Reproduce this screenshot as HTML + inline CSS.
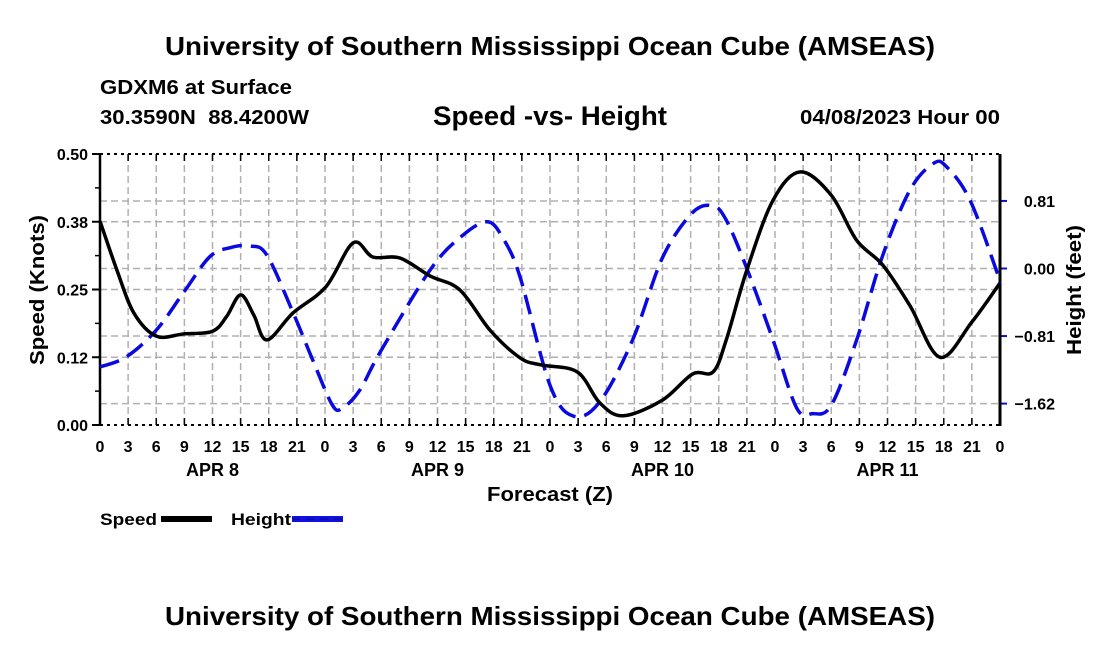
<!DOCTYPE html>
<html><head><meta charset="utf-8"><style>
body{margin:0;background:#fff;}
svg{display:block;font-family:"Liberation Sans",Arial,sans-serif;font-weight:bold;}
</style></head><body>
<svg id="chart" width="1100" height="650" viewBox="0 0 1100 650">
<text x="550" y="55" font-size="26" text-anchor="middle" textLength="770" lengthAdjust="spacingAndGlyphs">University of Southern Mississippi Ocean Cube (AMSEAS)</text>
<text x="100" y="94" font-size="20" textLength="192" lengthAdjust="spacingAndGlyphs">GDXM6 at Surface</text>
<text x="100" y="124" font-size="20" textLength="209" lengthAdjust="spacingAndGlyphs" xml:space="preserve">30.3590N  88.4200W</text>
<text x="550" y="125" font-size="27" text-anchor="middle" textLength="234" lengthAdjust="spacingAndGlyphs">Speed -vs- Height</text>
<text x="1000" y="124" font-size="20" text-anchor="end" textLength="200" lengthAdjust="spacingAndGlyphs">04/08/2023 Hour 00</text>
<g id="grid"></g>
<g id="axes"></g>
<g id="series"></g>
<text x="550" y="501" font-size="20" text-anchor="middle" textLength="126" lengthAdjust="spacingAndGlyphs">Forecast (Z)</text>
<text transform="translate(44,290) rotate(-90)" font-size="20" text-anchor="middle" textLength="150" lengthAdjust="spacingAndGlyphs">Speed (Knots)</text>
<text transform="translate(1081,290) rotate(-90)" font-size="20" text-anchor="middle" textLength="130" lengthAdjust="spacingAndGlyphs">Height (feet)</text>
<g>
<text x="100" y="525" font-size="17" textLength="57" lengthAdjust="spacingAndGlyphs">Speed</text>
<rect x="161" y="516" width="51" height="6" fill="#000"/>
</g>
<g>
<text x="231" y="525" font-size="17" textLength="60" lengthAdjust="spacingAndGlyphs">Height</text>
<rect x="292" y="516" width="51" height="6" fill="#1010e0"/>
<line x1="292" y1="519" x2="343" y2="519" stroke="#000" stroke-width="1" stroke-dasharray="8,6" opacity="0.4"/>
</g>
<text x="550" y="625" font-size="26" text-anchor="middle" textLength="770" lengthAdjust="spacingAndGlyphs">University of Southern Mississippi Ocean Cube (AMSEAS)</text>
</svg>
<script>
const speedHours=[0,1.8,3.6,6,8.9,12,13.5,15,16.4,17.8,20.6,24.1,27,29.1,32,35.2,38.4,41.6,44.8,47,50.9,53.3,55.8,60,63.2,65.4,66.8,69,71.8,74.7,78,80.7,83.5,86.4,89.6,93,96];
const speedValues=[0.376,0.286,0.207,0.164,0.168,0.173,0.2,0.24,0.203,0.157,0.207,0.255,0.336,0.31,0.308,0.275,0.249,0.175,0.124,0.111,0.098,0.041,0.017,0.046,0.094,0.098,0.157,0.286,0.415,0.467,0.424,0.341,0.295,0.22,0.125,0.19,0.262];
const heightHours=[0,2.8,6,8.9,11.7,13.9,16,17.8,20.6,22.7,24.8,25.9,27.7,29.9,35.2,38.5,41.3,43,44.8,48,50.5,53.3,56.8,60,63.2,65.4,66.8,69,71.8,74.3,76,78,80.7,83.5,86.4,88.9,90.3,92.8,95.6,96];
const heightValues=[-1.18,-1.06,-0.74,-0.29,0.14,0.25,0.27,0.16,-0.53,-1.1,-1.64,-1.67,-1.46,-1.0,-0.02,0.38,0.56,0.36,-0.1,-1.4,-1.77,-1.6,-0.86,0.13,0.67,0.75,0.58,0.0,-0.86,-1.67,-1.74,-1.64,-0.86,0.16,0.94,1.26,1.22,0.82,-0.02,-0.2];
const xTickLabels=["0","3","6","9","12","15","18","21"];
const dayLabels=["APR 8","APR 9","APR 10","APR 11"];
const speedTicks=[0,0.125,0.25,0.375,0.5];
const speedTickLabels=["0.00","0.12","0.25","0.38","0.50"];
const heightTicks=[-1.62,-0.81,0,0.81];
const heightTickLabels=["\u22121.62","\u22120.81","0.00","0.81"];

const L=100,R=1000,T=154,B=425;
const xs=h=>L+h*(R-L)/96;
const ys=v=>B-v*(B-T)/0.5;
const yh=v=>268.5-v*83.4;
const NS="http://www.w3.org/2000/svg";
function mk(parent,tag,attrs){const e=document.createElementNS(NS,tag);for(const k in attrs)e.setAttribute(k,attrs[k]);parent.appendChild(e);return e;}
const grid=document.getElementById('grid'),axes=document.getElementById('axes'),series=document.getElementById('series');
for(let h=3;h<96;h+=3){const l=mk(grid,'line',{x1:xs(h),x2:xs(h),y1:T,y2:B,stroke:'#b0b0b0','stroke-width':1.5,'stroke-dasharray':'7,4'});

}
speedTicks.forEach((v,i)=>{if(v>0&&v<0.5){const l=mk(grid,'line',{x1:L,x2:R,y1:ys(v),y2:ys(v),stroke:'#b0b0b0','stroke-width':1.5,'stroke-dasharray':'7,4'});

}
const t=mk(axes,'text',{x:L-12,y:ys(v)+6,'font-size':16,'text-anchor':'end'});t.textContent=speedTickLabels[i];


mk(axes,'line',{x1:L-8,x2:L,y1:ys(v),y2:ys(v),stroke:'#000','stroke-width':2});});
for(let k=0;k<4;k++){mk(axes,'line',{x1:L-5,x2:L,y1:ys(0.0625+k*0.125),y2:ys(0.0625+k*0.125),stroke:'#000','stroke-width':1.5});}
heightTicks.forEach((v,i)=>{const l=mk(grid,'line',{x1:L,x2:R,y1:yh(v),y2:yh(v),stroke:'#b0b0b0','stroke-width':1.5,'stroke-dasharray':'7,4'});


mk(axes,'line',{x1:R,x2:R+7,y1:yh(v),y2:yh(v),stroke:'#1010c0','stroke-width':2});
const t=mk(axes,'text',{x:1055,y:yh(v)+6,'font-size':16,'text-anchor':'end'});t.textContent=heightTickLabels[i];

});
mk(axes,'line',{x1:L,x2:R,y1:T,y2:T,stroke:'#000','stroke-width':2,'stroke-dasharray':'3,4'});
mk(axes,'line',{x1:L,x2:R,y1:B,y2:B,stroke:'#000','stroke-width':2,'stroke-dasharray':'3,4'});
mk(axes,'line',{x1:L,x2:L,y1:T,y2:B+1,stroke:'#000','stroke-width':2.5});
mk(axes,'line',{x1:R,x2:R,y1:T,y2:B+1,stroke:'#000','stroke-width':3});
for(let h=0;h<=96;h+=3){mk(axes,'line',{x1:xs(h),x2:xs(h),y1:B,y2:B-7,stroke:'#000','stroke-width':1.5});
mk(axes,'line',{x1:xs(h),x2:xs(h),y1:T,y2:T+7,stroke:'#000','stroke-width':1.5});
const t=mk(axes,'text',{x:xs(h),y:B+27,'font-size':16,'text-anchor':'middle'});t.textContent=xTickLabels[(h/3)%8];

}
dayLabels.forEach((d,i)=>{const t=mk(axes,'text',{x:xs(12+24*i),y:B+51,'font-size':18,'text-anchor':'middle'});t.textContent=d;

});
function path(xv,yv,fx,fy){const p=xv.map((x,i)=>[fx(x),fy(yv[i])]);let d='M'+p[0][0]+','+p[0][1];
for(let i=0;i<p.length-1;i++){const p0=p[i-1]||p[i],p1=p[i],p2=p[i+1],p3=p[i+2]||p2;
d+=' C'+(p1[0]+(p2[0]-p0[0])/6)+','+(p1[1]+(p2[1]-p0[1])/6)+' '+(p2[0]-(p3[0]-p1[0])/6)+','+(p2[1]-(p3[1]-p1[1])/6)+' '+p2[0]+','+p2[1];}return d;}
const hp=mk(series,'path',{d:path(heightHours,heightValues,xs,yh),fill:'none',stroke:'#0a0ae0','stroke-width':3.5,'stroke-dasharray':'20,9'});


const sp=mk(series,'path',{d:path(speedHours,speedValues,xs,ys),fill:'none',stroke:'#000','stroke-width':3.5});


</script>
</body></html>
